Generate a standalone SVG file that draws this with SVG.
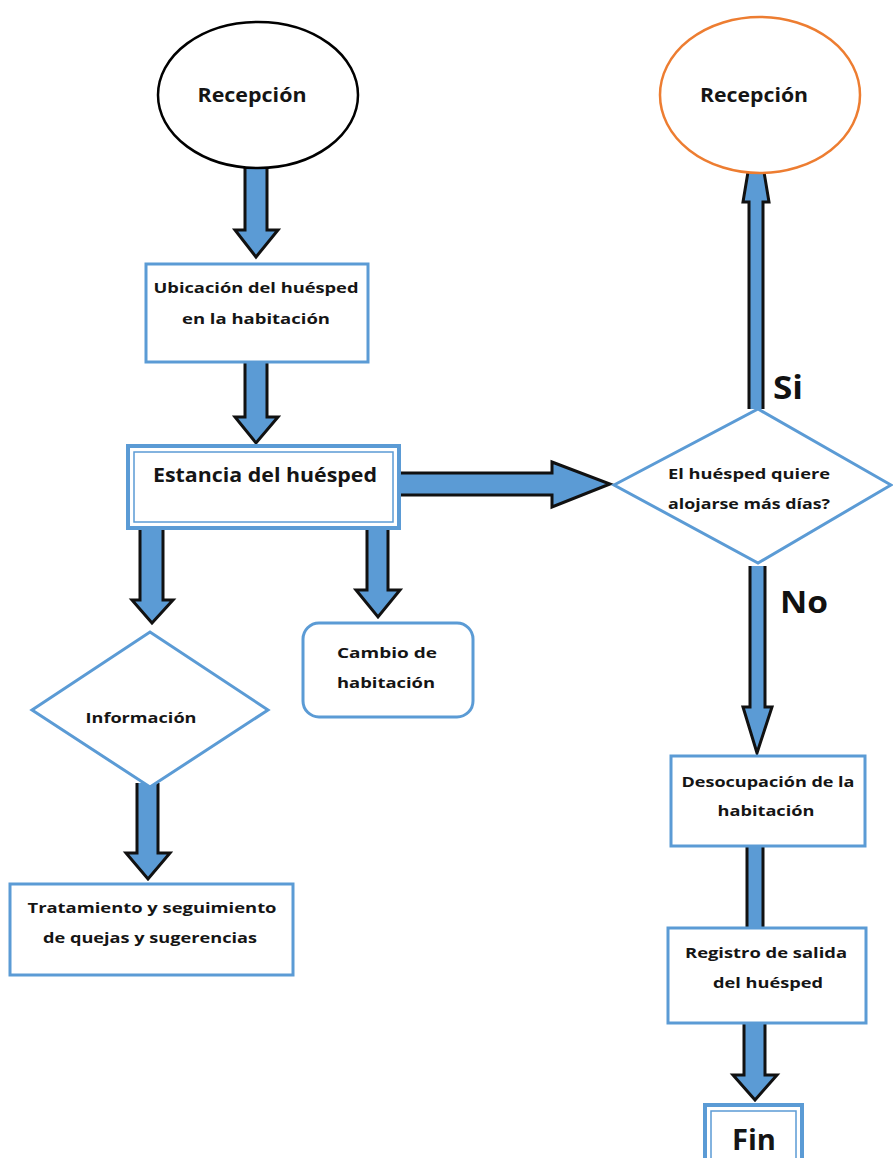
<svg xmlns="http://www.w3.org/2000/svg" width="893" height="1158" viewBox="0 0 893 1158">
<style>
.arr{fill:#5b9bd5;stroke:#111;stroke-width:3;stroke-linejoin:miter}
.box{fill:#fff;stroke:#5b9bd5;stroke-width:3}
.thin{fill:none;stroke:#5b9bd5;stroke-width:1.5}
.t{font-family:"Open Sans","Liberation Sans",sans-serif;font-weight:bold;font-size:14px;fill:#151515;text-anchor:middle}
.big{font-size:20px}
.lab{font-family:"Open Sans","Liberation Sans",sans-serif;font-weight:bold;fill:#111}
</style>
<rect width="893" height="1158" fill="#fff"/>
<g id="connectors">
  <path class="arr" d="M245,158 L245,230 L235,230 L256,257 L278,230 L267,230 L267,158"/>
  <path class="arr" d="M245,355 L245,417 L235,417 L256,443 L278,417 L267,417 L267,355"/>
  <path class="arr" d="M390,473 L552,473 L552,462 L610,484 L552,507 L552,495 L390,495"/>
  <path class="arr" d="M749,409 L749,202 L743,202 L756,124 L769,202 L763,202 L763,409"/>
  <path class="arr" d="M750,566 L750,707 L743,707 L757,753 L772,707 L765,707 L765,566"/>
  <rect x="747" y="846" width="16" height="82" fill="#5b9bd5"/>
  <path d="M747,846 L747,928 M763,846 L763,928" stroke="#111" stroke-width="3" fill="none"/>
  <path class="arr" d="M744,1018 L744,1075 L733,1075 L755,1100 L777,1075 L765,1075 L765,1018"/>
  <path class="arr" d="M140,520 L140,600 L132,600 L152,623 L173,600 L163,600 L163,520"/>
  <path class="arr" d="M367,520 L367,590 L356,590 L378,617 L400,590 L388,590 L388,520"/>
  <path class="arr" d="M137,783 L137,853 L126,853 L148,879 L170,853 L158,853 L158,783"/>
</g>
<g id="recepcion1">
  <ellipse cx="258" cy="95" rx="100" ry="73" fill="#fff" stroke="#000" stroke-width="2.5"/>
  <text class="t" x="252" y="102" style="font-size:19px" textLength="109" lengthAdjust="spacingAndGlyphs">Recepción</text>
</g>
<g id="recepcion2">
  <ellipse cx="760" cy="95" rx="100" ry="78" fill="#fff" stroke="#ed7d31" stroke-width="2.5"/>
  <text class="t" x="754" y="102" style="font-size:19px" textLength="108" lengthAdjust="spacingAndGlyphs">Recepción</text>
</g>
<g id="ubicacion">
  <rect class="box" x="146" y="264" width="222" height="98"/>
  <text class="t" x="256" y="293" textLength="205" lengthAdjust="spacingAndGlyphs">Ubicación del huésped</text>
  <text class="t" x="256" y="324" textLength="148" lengthAdjust="spacingAndGlyphs">en la habitación</text>
</g>
<g id="estancia">
  <rect class="box" x="128" y="446" width="271" height="82" style="stroke-width:4"/>
  <rect class="thin" x="134" y="452" width="259" height="70"/>
  <text class="t big" x="265" y="482" textLength="224" lengthAdjust="spacingAndGlyphs">Estancia del huésped</text>
</g>
<g id="decision">
  <polygon class="box" points="614,485 758,409 891,485 758,563"/>
  <text class="t" x="749" y="479" textLength="162" lengthAdjust="spacingAndGlyphs">El huésped quiere</text>
  <text class="t" x="749" y="509" textLength="162" lengthAdjust="spacingAndGlyphs">alojarse más días?</text>
</g>
<g id="informacion">
  <polygon class="box" points="32,710 150,632 268,710 150,787"/>
  <text class="t" x="141" y="723" textLength="111" lengthAdjust="spacingAndGlyphs">Información</text>
</g>
<g id="cambio">
  <rect class="box" x="303" y="623" width="170" height="94" rx="16"/>
  <text class="t" x="387" y="658" textLength="100" lengthAdjust="spacingAndGlyphs">Cambio de</text>
  <text class="t" x="386" y="688" textLength="98" lengthAdjust="spacingAndGlyphs">habitación</text>
</g>
<g id="tratamiento">
  <rect class="box" x="10" y="884" width="283" height="91"/>
  <text class="t" x="152" y="913" textLength="249" lengthAdjust="spacingAndGlyphs">Tratamiento y seguimiento</text>
  <text class="t" x="150" y="943" textLength="214" lengthAdjust="spacingAndGlyphs">de quejas y sugerencias</text>
</g>
<g id="desocupacion">
  <rect class="box" x="671" y="756" width="194" height="90"/>
  <text class="t" x="768" y="787" textLength="173" lengthAdjust="spacingAndGlyphs">Desocupación de la</text>
  <text class="t" x="766" y="816" textLength="97" lengthAdjust="spacingAndGlyphs">habitación</text>
</g>
<g id="registro">
  <rect class="box" x="668" y="928" width="198" height="95"/>
  <text class="t" x="766" y="958" textLength="162" lengthAdjust="spacingAndGlyphs">Registro de salida</text>
  <text class="t" x="768" y="988" textLength="110" lengthAdjust="spacingAndGlyphs">del huésped</text>
</g>
<g id="fin">
  <rect class="box" x="705" y="1105" width="97" height="60" style="stroke-width:4"/>
  <rect class="thin" x="711" y="1111" width="85" height="55"/>
  <text class="t" x="754" y="1150" style="font-size:28px" textLength="44" lengthAdjust="spacingAndGlyphs">Fin</text>
</g>
<g id="labels">
  <text class="lab" x="773" y="399" font-size="32" textLength="30" lengthAdjust="spacingAndGlyphs">Si</text>
  <text class="lab" x="780" y="613" font-size="30" textLength="48" lengthAdjust="spacingAndGlyphs">No</text>
</g>
</svg>
